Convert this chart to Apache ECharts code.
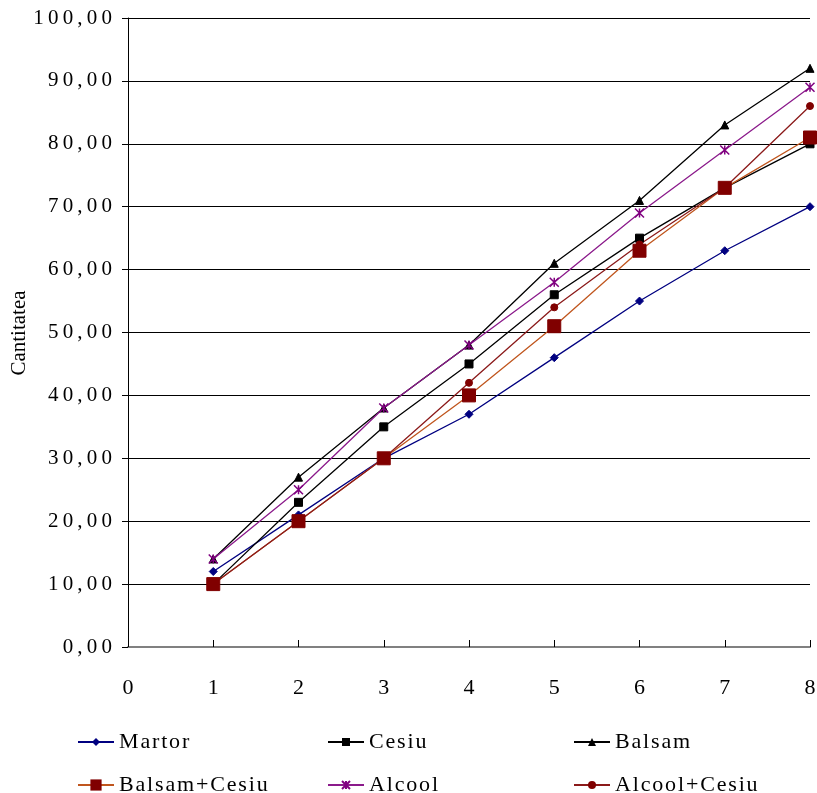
<!DOCTYPE html>
<html>
<head>
<meta charset="utf-8">
<script src="https://cdn.jsdelivr.net/npm/echarts@6/dist/echarts.min.js"></script>
<style>
  html, body { margin: 0; padding: 0; background: #fff; }
  #ec { width: 817px; height: 793px; }
</style>
</head>
<body>
<div id="ec"></div>
<script>
  // x positions 1..8
  const xValues = [1, 2, 3, 4, 5, 6, 7, 8]
  const martor = [12, 21, 30, 37, 46, 55, 63, 70]
  const cesiu = [10, 23, 35, 45, 56, 65, 73, 80]
  const balsam = [14, 27, 38, 48, 61, 71, 83, 92]
  const balsamCesiu = [10, 20, 30, 40, 51, 63, 73, 81]
  const alcool = [14, 25, 38, 48, 58, 69, 79, 89]
  const alcoolCesiu = [10, 20, 30, 42, 54, 64, 73, 86]
  const yTicks = [0, 10, 20, 30, 40, 50, 60, 70, 80, 90, 100]
  const yTitle = 'Cantitatea'

  const font = '"Liberation Serif", "DejaVu Serif", serif'

  // spread letters a bit, like the original export
  function spaced(str, sp) {
    return str.split('').join(sp)
  }

  function pts(vals) {
    return xValues.map((x, i) => [x, vals[i]])
  }

  function line(name, vals, lineColor, markColor, symbol, size) {
    return {
      name: name,
      type: 'line',
      data: pts(vals),
      symbol: symbol,
      symbolSize: size,
      lineStyle: { color: lineColor, width: 1.3 },
      itemStyle: { color: markColor, borderColor: markColor },
      z: 3
    }
  }

  const series = [
    line('Martor', martor, '#000080', '#000080', 'diamond', 8),
    line('Cesiu', cesiu, '#000000', '#000000', 'rect', 8),
    line('Balsam', balsam, '#000000', '#000000', 'triangle', 8),
    line('Balsam+Cesiu', balsamCesiu, '#c0561e', '#800000', 'rect', 13),
    line('Alcool', alcool, '#8b1a8b', '#800080', 'path://M0,0L10,10M10,0L0,10M5,0L5,10', 9),
    line('Alcool+Cesiu', alcoolCesiu, '#8b1a1a', '#800000', 'circle', 7)
  ]
  // star marker drawn as strokes
  series[4].itemStyle = { color: '#800080', borderColor: '#800080', borderWidth: 1.5 }

  const legendPos = [
    [72, 726], [322, 726], [568, 726],
    [72, 769], [322, 769], [568, 769]
  ]
  const legends = series.map((s, i) => ({
    data: [s.name],
    left: legendPos[i][0],
    top: legendPos[i][1],
    itemWidth: 36,
    itemHeight: i === 3 ? 14 : 10,
    itemGap: 8,
    formatter: n => spaced(n, '\u200A'),
    textStyle: { fontFamily: font, fontSize: 22, color: '#000' }
  }))

  const ec = echarts.init(document.getElementById('ec'))
  ec.setOption({
    animation: false,
    backgroundColor: '#fff',
    grid: { left: 128, right: 7, top: 18, bottom: 146, outerBoundsMode: 'none' },
    legend: legends,
    graphic: [{
      type: 'text',
      x: 19,
      y: 333,
      rotation: Math.PI / 2,
      style: {
        text: yTitle,
        fontFamily: font,
        fontSize: 21,
        fill: '#000',
        align: 'center',
        verticalAlign: 'middle'
      }
    }],
    xAxis: {
      type: 'value',
      min: 0,
      max: 8,
      interval: 1,
      axisLine: { show: true, onZero: false, lineStyle: { color: '#808080', width: 2 } },
      axisTick: { show: true, inside: true, length: 7, lineStyle: { color: '#000' } },
      splitLine: { show: false },
      axisLabel: { fontFamily: font, fontSize: 22, color: '#000', margin: 30 }
    },
    yAxis: {
      type: 'value',
      min: yTicks[0],
      max: yTicks[yTicks.length - 1],
      interval: 10,
      axisLine: { show: true, lineStyle: { color: '#000', width: 1 } },
      axisTick: { show: true, length: 6, lineStyle: { color: '#000' } },
      splitLine: { show: true, lineStyle: { color: '#000', width: 1 } },
      axisLabel: {
        fontFamily: font, fontSize: 21, color: '#000', margin: 16,
        formatter: v => spaced(v.toFixed(2).replace('.', ','), '\u2009')
      }
    },
    series: series
  })
</script>
</body>
</html>
